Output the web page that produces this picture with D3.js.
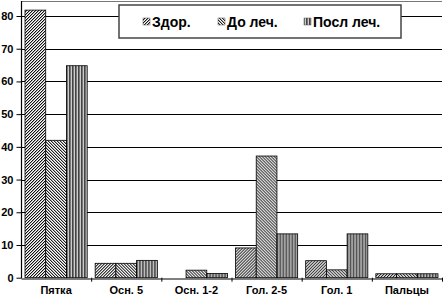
<!DOCTYPE html>
<html lang="ru">
<head>
<meta charset="UTF-8">
<title>Bar chart</title>
<script src="https://d3js.org/d3.v7.min.js"></script>
<style>
    body { margin: 0; background: #fff; }
    text { font-family: "Liberation Sans", Arial, sans-serif; font-weight: bold; fill: #000; }
</style>
</head>
<body>
<div id="chart"></div>
<script>
    // Data
    const categories = ["Пятка", "Осн. 5", "Осн. 1-2", "Гол. 2-5", "Гол. 1", "Пальцы"];
    const seriesNames = ["Здор.", "До леч.", "Посл леч."];
    const zdor = [81.8, 4.4, 0, 9.1, 5.2, 1.2];
    const doLech = [42, 4.4, 2.3, 37.2, 2.4, 1.2];
    const poslLech = [64.8, 5.3, 1.3, 13.4, 13.4, 1.2];
    const yTicks = [0, 10, 20, 30, 40, 50, 60, 70, 80];

    const W = 443, H = 297;
    const plotLeft = 21, plotRight = 442, plotTop = 1, plotBottom = 277.7;

    const svg = d3.select("#chart").append("svg")
        .attr("width", W).attr("height", H);

    // Pixel hatch patterns
    const defs = svg.append("defs");
    function pixelPattern(id, size, cell) {
        const p = defs.append("pattern").attr("id", id)
            .attr("patternUnits", "userSpaceOnUse")
            .attr("width", size).attr("height", size);
        for (let py = 0; py < size; py++) {
            for (let px = 0; px < size; px++) {
                p.append("rect").attr("x", px).attr("y", py).attr("width", 1).attr("height", 1)
                    .attr("fill", cell(px, py)).attr("shape-rendering", "crispEdges");
            }
        }
    }
    pixelPattern("p0", 3, (px, py) => [ "#111", "#aaa", "#fff" ][(px + py) % 3]);
    pixelPattern("p1", 3, (px, py) => [ "#222", "#aaa", "#fff" ][(px - py + 3) % 3]);
    pixelPattern("p2", 3, (px) => [ "#444", "#777", "#ccc" ][px]);
    const fills = ["url(#p0)", "url(#p1)", "url(#p2)"];

    const y = d3.scaleLinear().domain([0, 80]).range([plotBottom, 16]);
    const x0 = d3.scaleBand().domain(categories).range([plotLeft, plotRight]).paddingInner(0).paddingOuter(0);
    const x1 = d3.scaleBand().domain(seriesNames).range([4, x0.bandwidth() - 4]);

    // Frame top
    svg.append("line").attr("x1", plotLeft).attr("x2", plotRight).attr("y1", plotTop + 0.5).attr("y2", plotTop + 0.5)
        .attr("stroke", "#777").attr("stroke-width", 1);

    // Gridlines
    svg.append("g").selectAll("line").data(yTicks.filter(d => d > 0)).join("line")
        .attr("x1", plotLeft).attr("x2", plotRight)
        .attr("y1", d => Math.round(y(d)) + 0.5).attr("y2", d => Math.round(y(d)) + 0.5)
        .attr("stroke", "#000").attr("stroke-width", 1);

    // Bars
    const table = categories.map((c, i) => ({ cat: c, vals: [zdor[i], doLech[i], poslLech[i]] }));
    svg.append("g").selectAll("g").data(table).join("g")
        .attr("transform", d => `translate(${x0(d.cat)},0)`)
        .selectAll("rect").data(d => d.vals.map((v, k) => ({ v, k })).filter(e => e.v > 0)).join("rect")
        .attr("x", d => x1(seriesNames[d.k]))
        .attr("y", d => y(d.v))
        .attr("width", x1.bandwidth())
        .attr("height", d => y(0) - y(d.v))
        .attr("fill", d => fills[d.k])
        .attr("stroke", "#000").attr("stroke-width", 0.8);

    // Y axis
    const yAxis = svg.append("g").attr("transform", `translate(${plotLeft + 0.5},0)`)
        .call(d3.axisLeft(y).tickValues(yTicks).tickSize(5).tickSizeOuter(0));
    yAxis.select(".domain").remove();
    yAxis.selectAll("line").attr("stroke", "#000");
    yAxis.selectAll("text").style("font-size", "11px").attr("x", -8);
    svg.append("line").attr("x1", plotLeft + 0.5).attr("x2", plotLeft + 0.5).attr("y1", plotTop).attr("y2", plotBottom + 0.5)
        .attr("stroke", "#000").attr("stroke-width", 1.2);

    // X axis
    const xAxis = svg.append("g").attr("transform", `translate(0,${Math.round(plotBottom) + 0.5})`)
        .call(d3.axisBottom(x0).tickSize(0).tickPadding(8));
    xAxis.select(".domain").attr("stroke", "#000").attr("stroke-width", 1.2);
    xAxis.selectAll("text").style("font-size", "11px");
    // tick marks at category boundaries
    svg.append("g").selectAll("line").data(categories).join("line")
        .attr("x1", d => x0(d) + x0.bandwidth() + 0.5).attr("x2", d => x0(d) + x0.bandwidth() + 0.5)
        .attr("y1", plotBottom).attr("y2", plotBottom + 4)
        .attr("stroke", "#000");

    // Legend
    const lg = svg.append("g");
    lg.append("rect").attr("x", 119).attr("y", 5).attr("width", 282).attr("height", 33)
        .attr("fill", "#fff").attr("stroke", "#444").attr("stroke-width", 1.5);
    const legX = [143, 218, 304];
    seriesNames.forEach((s, k) => {
        lg.append("rect").attr("x", legX[k]).attr("y", 18).attr("width", 7).attr("height", 7)
            .attr("fill", fills[k]).attr("stroke", "#555").attr("stroke-width", 0.5);
        lg.append("text").attr("x", legX[k] + 9).attr("y", 27).text(s).style("font-size", "14px");
    });
</script>
</body>
</html>
